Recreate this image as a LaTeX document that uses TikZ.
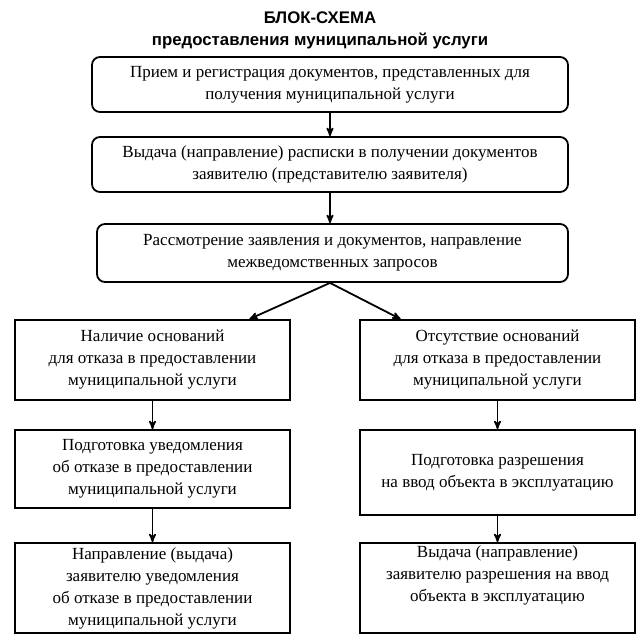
\documentclass[tikz,border=0pt]{standalone}
\usepackage{fontspec}
\setmainfont{Liberation Serif}
\setsansfont{Liberation Sans}
\usetikzlibrary{calc}
\usetikzlibrary{arrows}

\begin{document}
\begin{tikzpicture}[x=1pt,y=-1pt,
  blk/.style={draw, line width=1.8pt, align=center, inner sep=2pt, font=\fontsize{17}{22}\selectfont},
  rblk/.style={blk, rounded corners=8pt},
  arr/.style={black, line width=1.8pt, ->, >=stealth'}]
\useasboundingbox (0,0) rectangle (640,637);
\node[font=\sffamily\bfseries\fontsize{16.8}{22}\selectfont, align=center] (title) at (320,30)
  {БЛОК-СХЕМА\\предоставления муниципальной услуги};
% upper chain
\node[rblk, minimum width=476, minimum height=55] (b1) at (330,84.5)
  {Прием и регистрация документов, представленных для\\получения муниципальной услуги};
\node[rblk, minimum width=476, minimum height=55] (b2) at (330,164.5)
  {Выдача (направление) расписки в получении документов\\заявителю (представителю заявителя)};
\node[rblk, minimum width=471, minimum height=58] (b3) at (332.5,253)
  {Рассмотрение заявления и документов, направление\\межведомственных запросов};
% left column
\node[blk, minimum width=275, minimum height=80] (l1) at (152.5,360)
  {Наличие оснований\\для отказа в предоставлении\\муниципальной услуги};
\node[blk, minimum width=275, minimum height=78] (l2) at (152.5,469)
  {Подготовка уведомления\\об отказе в предоставлении\\муниципальной услуги};
\node[blk, minimum width=275, minimum height=90] (l3) at (152.5,588)
  {Направление (выдача)\\заявителю уведомления\\об отказе в предоставлении\\муниципальной услуги};
% right column
\node[blk, minimum width=275, minimum height=80] (r1) at (497.5,360)
  {Отсутствие оснований\\для отказа в предоставлении\\муниципальной услуги};
\node[blk, minimum width=275, minimum height=85] (r2) at (497.5,472.5)
  {Подготовка разрешения\\на ввод объекта в эксплуатацию};
\node[blk, minimum width=275, minimum height=90] (r3) at (497.5,588)
  {Выдача (направление)\\заявителю разрешения на ввод\\объекта в эксплуатацию\\[6pt]};
\foreach \a/\b in {b1/b2, b2/b3, l1/l2, l2/l3, r1/r2, r2/r3} {
  \draw[arr] (\a.south) -- (\a.south |- \b.north);
}
\draw[arr] (b1.south |- b3.south) -- ($(l1.north)!0.7!(l1.north east)$);
\draw[arr] (b1.south |- b3.south) -- ($(r1.north)!0.7!(r1.north west)$);
\end{tikzpicture}
\end{document}
